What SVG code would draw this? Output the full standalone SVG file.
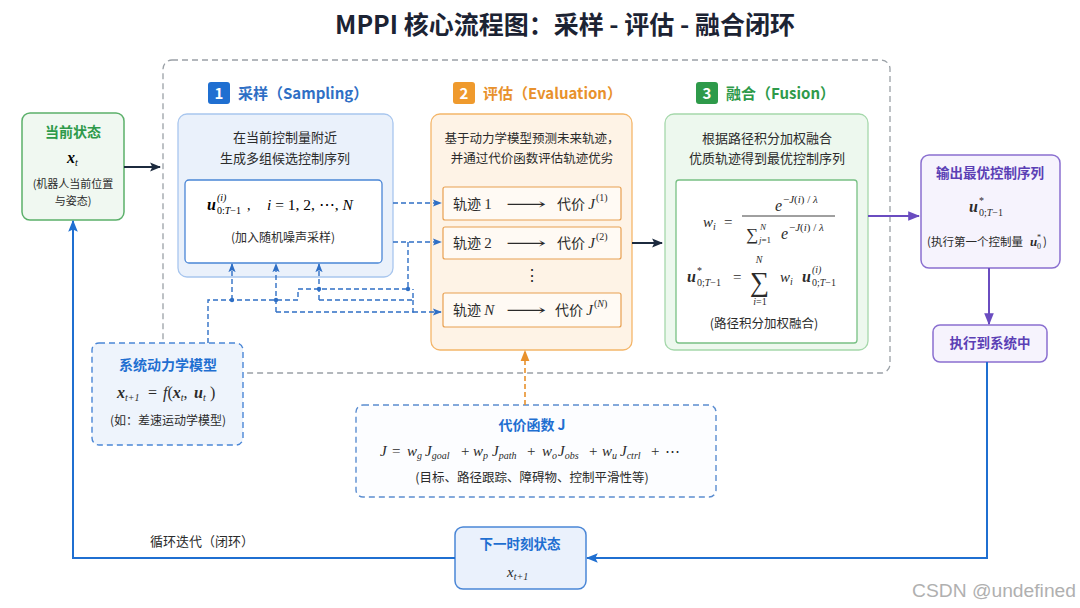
<svg xmlns="http://www.w3.org/2000/svg" width="1080" height="608" viewBox="0 0 1080 608">
<defs>
<style>
.s{font-family:"Noto Sans CJK SC","Noto Sans",sans-serif}
.m{font-family:"Liberation Serif","DejaVu Serif",serif}
.i{font-style:italic}
.bi{font-weight:bold;font-style:italic}
.bd{font-weight:bold}
.txt{fill:#2b2b2b}
.dash{fill:none;stroke:#2f6fc5;stroke-width:1.4;stroke-dasharray:5 3}
</style>
<marker id="ad" viewBox="0 0 10 10" refX="9" refY="5" markerWidth="11" markerHeight="11" markerUnits="userSpaceOnUse" orient="auto"><path d="M0,1 L10,5 L0,9 L2,5 z" fill="#1c2a3e"/></marker>
<marker id="ab" viewBox="0 0 10 10" refX="9" refY="5" markerWidth="9" markerHeight="9" markerUnits="userSpaceOnUse" orient="auto"><path d="M0,1 L10,5 L0,9 L2,5 z" fill="#2f6fc5"/></marker>
<marker id="ap" viewBox="0 0 10 10" refX="9" refY="5" markerWidth="12" markerHeight="12" markerUnits="userSpaceOnUse" orient="auto"><path d="M0,1 L10,5 L0,9 z" fill="#6a4cc0"/></marker>
<marker id="ao" viewBox="0 0 10 10" refX="9" refY="5" markerWidth="11" markerHeight="11" markerUnits="userSpaceOnUse" orient="auto"><path d="M0,1 L10,5 L0,9 z" fill="#e8912c"/></marker>
<marker id="al" viewBox="0 0 10 10" refX="9" refY="5" markerWidth="12" markerHeight="12" markerUnits="userSpaceOnUse" orient="auto"><path d="M0,1 L10,5 L0,9 L2,5 z" fill="#1f6fd1"/></marker>
</defs>
<rect x="0" y="0" width="1080" height="608" fill="#ffffff"/>

<text x="565" y="34" class="s bd" font-size="25" fill="#1c2333" text-anchor="middle">MPPI 核心流程图：采样 - 评估 - 融合闭环</text>

<g id="container">
<rect x="163" y="60" width="727" height="313" rx="9" fill="none" stroke="#9aa0a6" stroke-width="1.3" stroke-dasharray="6 4"/>
</g>

<g id="current-state">
<rect x="22" y="113" width="102" height="107" rx="8" fill="#f0f8f1" stroke="#5bb06a" stroke-width="1.5"/>
<text x="73" y="137" class="s bd" font-size="14" fill="#2e9a4a" text-anchor="middle">当前状态</text>
<text x="67" y="163" class="m"><tspan class="bi" font-size="16">x</tspan><tspan class="i" font-size="10" dy="3">t</tspan></text>
<text x="73" y="188" class="s txt" font-size="11" text-anchor="middle">(机器人当前位置</text>
<text x="73" y="205" class="s txt" font-size="11" text-anchor="middle">与姿态)</text>
</g>

<g id="sampling">
<rect x="208" y="82" width="22" height="22" rx="3" fill="#1f6fd1"/>
<text x="219" y="99" class="s bd" font-size="15" fill="#ffffff" text-anchor="middle">1</text>
<text x="238" y="99" class="s bd" font-size="15" fill="#2f6fc5">采样（Sampling）</text>
<rect x="178" y="114" width="215" height="163" rx="9" fill="#eaf1fb" stroke="#a8c6ee" stroke-width="1.3"/>
<text x="285" y="142" class="s txt" font-size="13" text-anchor="middle">在当前控制量附近</text>
<text x="285" y="163" class="s txt" font-size="13" text-anchor="middle">生成多组候选控制序列</text>
<rect x="185" y="180" width="197" height="83" rx="4" fill="#ffffff" stroke="#4a86d6" stroke-width="1.3"/>
<text x="207" y="210" class="m bi" font-size="16">u</text>
<text x="217" y="201" class="m i" font-size="10">(i)</text>
<text x="217" y="214" class="m" font-size="10">0:<tspan class="i">T</tspan>−1</text>
<text x="247" y="210" class="m" font-size="14">,</text>
<text x="267" y="210" class="m" font-size="15.5"><tspan class="i">i</tspan> = 1, 2, ⋯, <tspan class="i">N</tspan></text>
<text x="283" y="242" class="s txt" font-size="12" text-anchor="middle">(加入随机噪声采样)</text>
</g>

<g id="evaluation">
<rect x="453" y="82" width="22" height="22" rx="3" fill="#ef9a2d"/>
<text x="464" y="99" class="s bd" font-size="15" fill="#ffffff" text-anchor="middle">2</text>
<text x="483" y="99" class="s bd" font-size="15" fill="#e8912c">评估（Evaluation）</text>
<rect x="431" y="114" width="201" height="236" rx="9" fill="#fef3e6" stroke="#f4b66a" stroke-width="1.3"/>
<text x="532" y="143" class="s txt" font-size="12.5" text-anchor="middle">基于动力学模型预测未来轨迹，</text>
<text x="532" y="163" class="s txt" font-size="12.5" text-anchor="middle">并通过代价函数评估轨迹优劣</text>
<rect x="443" y="187" width="178" height="33" rx="2" fill="#fffaf4" stroke="#e8a050" stroke-width="1.2"/>
<text x="453" y="209" class="s txt" font-size="14">轨迹 <tspan class="m" font-size="15">1</tspan></text>
<text x="506" y="209" class="m txt" font-size="15" textLength="40" lengthAdjust="spacingAndGlyphs">⟶</text>
<text x="557" y="209" class="s txt" font-size="14">代价 <tspan class="m i" font-size="15">J</tspan></text>
<text x="596" y="201" class="m txt" font-size="10">(1)</text>
<rect x="443" y="227" width="178" height="32" rx="2" fill="#fffaf4" stroke="#e8a050" stroke-width="1.2"/>
<text x="453" y="248" class="s txt" font-size="14">轨迹 <tspan class="m" font-size="15">2</tspan></text>
<text x="506" y="248" class="m txt" font-size="15" textLength="40" lengthAdjust="spacingAndGlyphs">⟶</text>
<text x="557" y="248" class="s txt" font-size="14">代价 <tspan class="m i" font-size="15">J</tspan></text>
<text x="596" y="240" class="m txt" font-size="10">(2)</text>
<text x="532" y="281" class="m txt" font-size="16" text-anchor="middle">⋮</text>
<rect x="443" y="293" width="178" height="34" rx="2" fill="#fffaf4" stroke="#e8a050" stroke-width="1.2"/>
<text x="453" y="315" class="s txt" font-size="14">轨迹 <tspan class="m i" font-size="15">N</tspan></text>
<text x="506" y="315" class="m txt" font-size="15" textLength="40" lengthAdjust="spacingAndGlyphs">⟶</text>
<text x="555" y="315" class="s txt" font-size="14">代价 <tspan class="m i" font-size="15">J</tspan></text>
<text x="594" y="307" class="m txt" font-size="10">(<tspan class="i">N</tspan>)</text>
</g>

<g id="fusion">
<rect x="696" y="82" width="22" height="22" rx="3" fill="#2e9a4a"/>
<text x="707" y="99" class="s bd" font-size="15" fill="#ffffff" text-anchor="middle">3</text>
<text x="726" y="99" class="s bd" font-size="15" fill="#2e9a4a">融合（Fusion）</text>
<rect x="665" y="114" width="203" height="236" rx="9" fill="#edf8ee" stroke="#a5d8ab" stroke-width="1.3"/>
<text x="767" y="143" class="s txt" font-size="13" text-anchor="middle">根据路径积分加权融合</text>
<text x="767" y="163" class="s txt" font-size="13" text-anchor="middle">优质轨迹得到最优控制序列</text>
<rect x="676" y="180" width="181" height="163" rx="3" fill="#ffffff" stroke="#78c084" stroke-width="1.3"/>
<text x="703" y="227" class="m txt" font-size="15"><tspan class="i">w</tspan><tspan class="i" font-size="10" dy="3">i</tspan></text>
<text x="724" y="227" class="m txt" font-size="15">=</text>
<text x="775" y="211" class="m txt i" font-size="16">e</text>
<text x="783" y="203" class="m txt" font-size="11">−<tspan class="i">J</tspan>(<tspan class="i">i</tspan>) / <tspan class="i">λ</tspan></text>
<line x1="742" y1="216" x2="835" y2="216" stroke="#2b2b2b" stroke-width="0.9"/>
<text x="746" y="240" class="m txt" font-size="17">∑</text>
<text x="760" y="230" class="m txt i" font-size="9">N</text>
<text x="759" y="243" class="m txt" font-size="9"><tspan class="i">j</tspan>=1</text>
<text x="781" y="239" class="m txt i" font-size="16">e</text>
<text x="789" y="231" class="m txt" font-size="11">−<tspan class="i">J</tspan>(<tspan class="i">i</tspan>) / <tspan class="i">λ</tspan></text>
<text x="687" y="282" class="m txt bi" font-size="16">u</text>
<text x="697" y="274" class="m txt" font-size="10">*</text>
<text x="697" y="286" class="m txt" font-size="10">0;<tspan class="i">T</tspan>−1</text>
<text x="733" y="282" class="m txt" font-size="15">=</text>
<text x="750" y="291" class="m txt" font-size="27">∑</text>
<text x="759" y="263" class="m txt i" font-size="10" text-anchor="middle">N</text>
<text x="760" y="305" class="m txt" font-size="10" text-anchor="middle"><tspan class="i">i</tspan>=1</text>
<text x="780" y="282" class="m txt" font-size="15"><tspan class="i">w</tspan><tspan class="i" font-size="10" dy="3">i</tspan></text>
<text x="802" y="282" class="m txt bi" font-size="16">u</text>
<text x="812" y="273" class="m txt i" font-size="10">(i)</text>
<text x="812" y="286" class="m txt" font-size="10">0;<tspan class="i">T</tspan>−1</text>
<text x="764" y="328" class="s txt" font-size="12.5" text-anchor="middle">(路径积分加权融合)</text>
</g>

<g id="output">
<rect x="921" y="155" width="139" height="113" rx="8" fill="#f6f3fd" stroke="#8a6fd0" stroke-width="1.5"/>
<text x="990" y="178" class="s bd" font-size="13.5" fill="#5b3fb5" text-anchor="middle">输出最优控制序列</text>
<text x="969" y="212" class="m txt bi" font-size="16">u</text>
<text x="979" y="204" class="m txt" font-size="10">*</text>
<text x="979" y="216" class="m txt" font-size="10">0;<tspan class="i">T</tspan>−1</text>
<text x="927" y="246" class="s txt" font-size="11.5">(执行第一个控制量 </text>
<text x="1030" y="246" class="m txt bi" font-size="13">u</text>
<text x="1037" y="249" class="m txt" font-size="8">0</text>
<text x="1037" y="240" class="m txt" font-size="8">*</text>
<text x="1043" y="246" class="s txt" font-size="11.5">)</text>
</g>

<g id="execute">
<rect x="933" y="325" width="114" height="37" rx="7" fill="#f6f3fd" stroke="#8a6fd0" stroke-width="1.5"/>
<text x="990" y="348" class="s bd" font-size="13.5" fill="#5b3fb5" text-anchor="middle">执行到系统中</text>
</g>

<g id="next-state">
<rect x="455" y="527" width="131" height="62" rx="8" fill="#eaf1fc" stroke="#4a86d6" stroke-width="1.5"/>
<text x="520" y="549" class="s bd" font-size="13.5" fill="#1f6fd1" text-anchor="middle">下一时刻状态</text>
<text x="507" y="577" class="m txt i" font-size="15">x<tspan font-size="10" dy="3">t+1</tspan></text>
</g>

<g id="dynamics-model">
<rect x="92" y="343" width="151" height="102" rx="7" fill="#eef4fc" stroke="#4a86d6" stroke-width="1.4" stroke-dasharray="6 4"/>
<text x="168" y="370" class="s bd" font-size="14" fill="#1f6fd1" text-anchor="middle">系统动力学模型</text>
<text class="m txt" font-size="16"><tspan class="bi" x="117" y="398">x</tspan><tspan class="i" font-size="10" y="401">t+1</tspan><tspan x="148" y="398">=</tspan><tspan class="i" x="163" y="398">f</tspan><tspan y="398">(</tspan><tspan class="bi">x</tspan><tspan class="i" font-size="10" y="401">t</tspan><tspan y="398">,</tspan><tspan class="bi" x="194" y="398">u</tspan><tspan class="i" font-size="10" y="401">t</tspan><tspan x="210" y="398">)</tspan></text>
<text x="168" y="425" class="s txt" font-size="12" text-anchor="middle">(如：差速运动学模型)</text>
</g>

<g id="cost-function">
<rect x="356" y="405" width="360" height="92" rx="7" fill="#fcfdff" stroke="#5b8dd0" stroke-width="1.4" stroke-dasharray="6 4"/>
<text x="532" y="430" class="s bd" font-size="14" fill="#1f6fd1" text-anchor="middle">代价函数 J</text>
<text class="m txt" font-size="15"><tspan class="i" x="380" y="456">J</tspan><tspan x="392" y="456">=</tspan><tspan class="i" x="407" y="456">w</tspan><tspan class="i" font-size="10" y="459">g</tspan><tspan class="i" x="425" y="456">J</tspan><tspan class="i" font-size="10" y="459">goal</tspan><tspan x="461" y="456">+</tspan><tspan class="i" x="473" y="456">w</tspan><tspan class="i" font-size="10" y="459">p</tspan><tspan class="i" x="492" y="456">J</tspan><tspan class="i" font-size="10" y="459">path</tspan><tspan x="527" y="456">+</tspan><tspan class="i" x="542" y="456">w</tspan><tspan class="i" font-size="10" y="459">o</tspan><tspan class="i" x="558" y="456">J</tspan><tspan class="i" font-size="10" y="459">obs</tspan><tspan x="589" y="456">+</tspan><tspan class="i" x="602" y="456">w</tspan><tspan class="i" font-size="10" y="459">u</tspan><tspan class="i" x="620" y="456">J</tspan><tspan class="i" font-size="10" y="459">ctrl</tspan><tspan x="651" y="456">+</tspan><tspan x="665" y="456">⋯</tspan></text>
<text x="532" y="482" class="s txt" font-size="12.5" text-anchor="middle">(目标、路径跟踪、障碍物、控制平滑性等)</text>
</g>

<g id="connectors">
<path d="M124,167 H160" fill="none" stroke="#1c2a3e" stroke-width="2" marker-end="url(#ad)"/>
<path d="M393,203 H441" class="dash" marker-end="url(#ab)"/>
<path d="M393,242 H441" class="dash" marker-end="url(#ab)"/>
<path d="M208,343 V300 H298 V289 H408 V242" class="dash"/>
<path d="M232,300 V264" class="dash" marker-end="url(#ab)"/>
<path d="M276,312 V264" class="dash" marker-end="url(#ab)"/>
<path d="M319,300 V264" class="dash" marker-end="url(#ab)"/>
<path d="M319,300 H413 V289" class="dash"/>
<path d="M276,312 H413 V300" class="dash"/>
<path d="M413,312 H441" class="dash" marker-end="url(#ab)"/>
<circle cx="232" cy="300" r="2.2" fill="#2f6fc5"/>
<circle cx="276" cy="300" r="2.2" fill="#2f6fc5"/>
<circle cx="319" cy="289" r="2.2" fill="#2f6fc5"/>
<circle cx="408" cy="289" r="2.2" fill="#2f6fc5"/>
<path d="M632,243 H662" fill="none" stroke="#1c2a3e" stroke-width="2" marker-end="url(#ad)"/>
<path d="M868,216 H919" fill="none" stroke="#6a4cc0" stroke-width="2" marker-end="url(#ap)"/>
<path d="M989,268 V324" fill="none" stroke="#6a4cc0" stroke-width="2" marker-end="url(#ap)"/>
<path d="M987,362 V558 H587" fill="none" stroke="#1f6fd1" stroke-width="2" marker-end="url(#al)"/>
<path d="M455,558 H73 V221" fill="none" stroke="#1f6fd1" stroke-width="2" marker-end="url(#al)"/>
<path d="M525,405 V351" fill="none" stroke="#e8912c" stroke-width="1.6" stroke-dasharray="5 3" marker-end="url(#ao)"/>
</g>

<text x="150" y="546" class="s txt" font-size="13">循环迭代（闭环）</text>
<text x="1076" y="597" font-family="Liberation Sans, sans-serif" font-size="18" fill="#b0b0b0" text-anchor="end" textLength="164" lengthAdjust="spacingAndGlyphs">CSDN @undefined</text>
</svg>
